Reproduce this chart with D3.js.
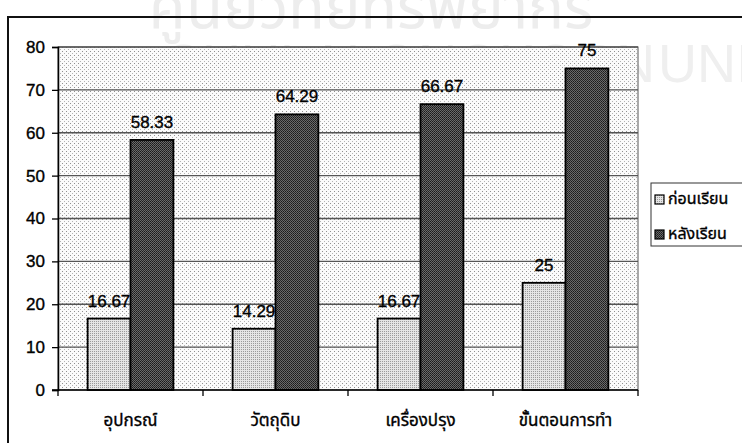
<!DOCTYPE html>
<html>
<head>
<meta charset="utf-8">
<script src="https://cdn.jsdelivr.net/npm/d3@7"></script>
<style>
  body { margin: 0; background: #fff; }
  svg { display: block; }
  text { font-family: "Liberation Sans", Arial, sans-serif; }
  .thai { font-family: "Noto Sans Thai", "Noto Sans", "Liberation Sans", sans-serif; }
  .ink { stroke: #000; stroke-width: 0.35px; }
</style>
</head>
<body>
<div id="chart"></div>
<script>
// data
const categories = ["อุปกรณ์", "วัตถุดิบ", "เครื่องปรุง", "ขั้นตอนการทำ"];
const seriesNames = ["ก่อนเรียน", "หลังเรียน"];
const beforeValues = [16.67, 14.29, 16.67, 25];
const afterValues = [58.33, 64.29, 66.67, 75];
const yTicks = [0, 10, 20, 30, 40, 50, 60, 70, 80];

let W = 742, H = 443;
let margin = {top: 47, left: 58};
let width = 580, height = 343;

let svg = d3.select("#chart").append("svg")
    .attr("width", W)
    .attr("height", H);

// textures to imitate the scanned print
let defs = svg.append("defs");
let bg = defs.append("pattern").attr("id", "bgDots")
    .attr("width", 4).attr("height", 4).attr("patternUnits", "userSpaceOnUse");
bg.append("rect").attr("width", 4).attr("height", 4).attr("fill", "#fbfbfb");
bg.append("rect").attr("x", 0).attr("y", 0).attr("width", 1).attr("height", 1).attr("fill", "#909090");
bg.append("rect").attr("x", 2).attr("y", 2).attr("width", 1).attr("height", 1).attr("fill", "#b4b4b4");

let light = defs.append("pattern").attr("id", "lightDots")
    .attr("width", 2).attr("height", 2).attr("patternUnits", "userSpaceOnUse");
light.append("rect").attr("width", 2).attr("height", 2).attr("fill", "#e4e4e4");
light.append("rect").attr("width", 1).attr("height", 1).attr("fill", "#9a9a9a");

let dark = defs.append("pattern").attr("id", "darkDots")
    .attr("width", 2).attr("height", 2).attr("patternUnits", "userSpaceOnUse");
dark.append("rect").attr("width", 2).attr("height", 2).attr("fill", "#6a6a6a");
dark.append("rect").attr("width", 1).attr("height", 1).attr("fill", "#1a1a1a");
dark.append("rect").attr("x", 1).attr("y", 1).attr("width", 1).attr("height", 1).attr("fill", "#2a2a2a");

// faint watermark behind
svg.append("text")
    .attr("class", "thai")
    .attr("x", 371).attr("y", 28)
    .attr("text-anchor", "middle")
    .attr("font-size", 60)
    .attr("fill", "#ededed")
    .text("ศูนย์วิทยทรัพยากร");
svg.append("text")
    .attr("x", 655).attr("y", 82)
    .attr("text-anchor", "end")
    .attr("font-size", 54)
    .attr("fill", "#efefef")
    .text("CHULALONGKORN");
svg.append("text")
    .attr("x", 658).attr("y", 82)
    .attr("font-size", 54)
    .attr("fill", "#efefef")
    .text("UNIV");

// outer chart frame
svg.append("path")
    .attr("d", "M8," + H + "V17H" + W)
    .attr("fill", "none")
    .attr("stroke", "#111")
    .attr("stroke-width", 2);

let x0 = d3.scaleBand()
    .domain(categories)
    .range([0, width])
    .padding(0);
let x1 = d3.scaleBand()
    .domain(seriesNames)
    .range([0, x0.bandwidth()])
    .paddingInner(0)
    .paddingOuter(0.69);
let y = d3.scaleLinear()
    .domain([0, 80])
    .range([height, 0]);
let z = d3.scaleOrdinal()
    .domain(seriesNames)
    .range(["url(#lightDots)", "url(#darkDots)"]);

let g = svg.append("g")
    .attr("transform", "translate(" + margin.left + "," + margin.top + ")");

g.append("rect")
    .attr("width", width)
    .attr("height", height)
    .attr("fill", "url(#bgDots)")
    .attr("stroke", "#555")
    .attr("stroke-width", 1);

// gridlines
g.append("g")
    .selectAll("line")
    .data(yTicks.filter(d => d > 0))
    .enter().append("line")
    .attr("x1", 0).attr("x2", width)
    .attr("y1", d => y(d)).attr("y2", d => y(d))
    .attr("stroke", "#555")
    .attr("stroke-width", 1.3);

let rows = categories.map((c, i) => ({cat: c, values: [beforeValues[i], afterValues[i]]}));

let groups = g.append("g")
    .selectAll("g")
    .data(rows)
    .enter().append("g")
    .attr("transform", d => "translate(" + x0(d.cat) + ",0)");

groups.selectAll("rect")
    .data(d => seriesNames.map((s, j) => ({key: s, value: d.values[j]})))
    .enter().append("rect")
    .attr("x", d => x1(d.key))
    .attr("y", d => y(d.value))
    .attr("width", x1.bandwidth())
    .attr("height", d => height - y(d.value))
    .attr("fill", d => z(d.key))
    .attr("stroke", "#000")
    .attr("stroke-width", 1.8);

groups.selectAll("text.val")
    .data(d => seriesNames.map((s, j) => ({key: s, value: d.values[j]})))
    .enter().append("text")
    .attr("class", "val ink")
    .attr("x", d => x1(d.key) + x1.bandwidth() / 2)
    .attr("y", d => y(d.value) - 12)
    .attr("text-anchor", "middle")
    .attr("font-size", 17)
    .attr("fill", "#000")
    .text(d => d.value);

// y axis
let yAxis = g.append("g")
    .call(d3.axisLeft(y).tickValues(yTicks).tickSize(6).tickPadding(7));
yAxis.select(".domain").attr("stroke", "#000").attr("stroke-width", 1.5);
yAxis.selectAll(".tick line").attr("stroke", "#000").attr("stroke-width", 1.3);
yAxis.selectAll(".tick text")
    .attr("class", "ink")
    .attr("font-size", 17)
    .attr("font-family", "Liberation Sans, Arial, sans-serif")
    .attr("fill", "#000");

// x axis, ticks between categories
let xAxis = g.append("g")
    .attr("transform", "translate(0," + height + ")");
xAxis.append("line")
    .attr("x1", -6).attr("x2", width)
    .attr("stroke", "#000").attr("stroke-width", 1.5);
xAxis.selectAll("line.tk")
    .data(categories.concat(["end"]))
    .enter().append("line")
    .attr("class", "tk")
    .attr("x1", (d, i) => i * x0.step()).attr("x2", (d, i) => i * x0.step())
    .attr("y1", 0).attr("y2", 6)
    .attr("stroke", "#000").attr("stroke-width", 1.3);
xAxis.selectAll("text")
    .data(categories)
    .enter().append("text")
    .attr("class", "thai ink")
    .attr("x", d => x0(d) + x0.bandwidth() / 2)
    .attr("y", 36)
    .attr("text-anchor", "middle")
    .attr("font-size", 17)
    .attr("fill", "#000")
    .text(d => d);

// legend
let legend = svg.append("g").attr("transform", "translate(651,183)");
legend.append("rect")
    .attr("width", 100).attr("height", 63)
    .attr("fill", "#fff")
    .attr("stroke", "#333").attr("stroke-width", 1);
let item = legend.selectAll("g")
    .data(seriesNames)
    .enter().append("g")
    .attr("transform", (d, i) => "translate(4," + (12 + i * 35) + ")");
item.append("rect")
    .attr("width", 9).attr("height", 9)
    .attr("fill", d => z(d))
    .attr("stroke", "#000").attr("stroke-width", 1.2);
item.append("text")
    .attr("class", "thai ink")
    .attr("x", 13).attr("y", 9)
    .attr("font-size", 16)
    .attr("fill", "#000")
    .text(d => d);
</script>
</body>
</html>
